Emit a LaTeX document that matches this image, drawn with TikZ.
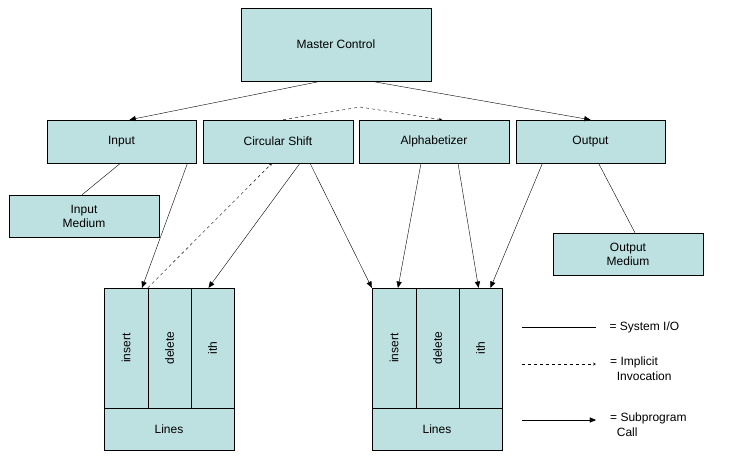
\documentclass[tikz,border=0pt]{standalone}
\usepackage{fontspec}
\setmainfont{Liberation Sans}
\usepackage{tikz}
\usetikzlibrary{calc, positioning, arrows, backgrounds}
\definecolor{boxfill}{HTML}{BDE0E1}
\tikzstyle{box}=[draw, fill=boxfill, shape=rectangle, inner sep=0pt, align=center, font=\fontsize{12}{14}\selectfont]
\tikzstyle{call}=[-triangle 45]
\tikzstyle{impl}=[dashed, ->]
\tikzset{>=stealth}
\begin{document}
\begin{tikzpicture}[x=1pt, y=-1pt]
\useasboundingbox (0,0) rectangle (736,458);
% the top module
\node[box, minimum width=190pt, minimum height=73pt] (M) at (336,44.5) {Master Control};
% the second row
\node[box, minimum width=149pt, minimum height=43pt] (I) at (121.5,141.5) {Input};
\node[box, minimum width=150pt, minimum height=43pt] (C) at (278,141.5) {Circular Shift};
\node[box, minimum width=150pt, minimum height=43pt] (A) at (434,141.5) {Alphabetizer};
\node[box, minimum width=149pt, minimum height=43pt] (O) at (590.5,141.5) {Output};
% the media
\node[box, minimum width=150pt, minimum height=42pt] (IM) at (84,216) {Input\\Medium};
\node[box, minimum width=150pt, minimum height=42pt] (OM) at (628,254) {Output\\Medium};
% the two line stores
\foreach \n/\x in {L/104, R/372} {
  \node[box, minimum width=44pt, minimum height=120pt] (\n1) at (\x+22,348) {};
  \node[box, minimum width=43pt, minimum height=120pt] (\n2) at (\x+65.5,348) {};
  \node[box, minimum width=43pt, minimum height=120pt] (\n3) at (\x+108.5,348) {};
  \node[box, minimum width=130pt, minimum height=42pt] (\n4) at (\x+65,429) {Lines};
  \node[rotate=90, font=\fontsize{12}{14}\selectfont] at (\n1) {insert};
  \node[rotate=90, font=\fontsize{12}{14}\selectfont] at (\n2) {delete};
  \node[rotate=90, font=\fontsize{12}{14}\selectfont] at (\n3) {ith};
}
% the calls
\draw[call] ($(M.south)+(-15,0)$) -- ($(I.north)+(8,0)$);
\draw[call] ($(M.south)+(35,0)$) -- ($(O.north)+(0,0)$);
\draw[call] ($(I.south)+(66,0)$) -- ($(L1.north)+(16,0)$);
\draw[call] ($(C.south)+(22,0)$) -- ($(L3.north)+(-4,0)$);
\draw[call] ($(C.south)+(32,0)$) -- (R1.north west);
\draw[call] ($(A.south)+(-13,0)$) -- ($(R1.north)+(4,0)$);
\draw[call] ($(A.south)+(24,0)$) -- ($(R3.north)+(-2,0)$);
\draw[call] ($(O.south)+(-48,0)$) -- ($(R3.north)+(10,0)$);
% the system I/O
\draw ($(I.south)+(-1,0)$) -- ($(IM.north)+(-2,0)$);
\draw ($(O.south)+(8,0)$) -- ($(OM.north)+(7,0)$);
% the implicit invocations
\coordinate (P) at (360,107);
\draw[impl] ($(C.north)+(5,0)$) -- (P) -- ($(A.north)+(8,0)$);
\draw[impl] ($(L2.north west)+(0,0)$) -- ($(C.south)+(-6,0)$);
% the legend
\coordinate (a1) at (522,327); \coordinate (a2) at (596,327);
\coordinate (b1) at (522,364); \coordinate (b2) at (596,364);
\coordinate (c1) at (522,420); \coordinate (c2) at (596,420);
\draw (a1) -- (a2);
\draw[impl] (b1) -- (b2);
\draw[call] (c1) -- (c2);
\node[anchor=west, font=\fontsize{12}{14}\selectfont] at (606,327) {= System I/O};
\node[anchor=north west, align=left, font=\fontsize{12}{15}\selectfont, inner sep=0pt] at (610,357) {= Implicit\\\ \ Invocation};
\node[anchor=north west, align=left, font=\fontsize{12}{15}\selectfont, inner sep=0pt] at (610,413) {= Subprogram\\\ \ Call};
\end{tikzpicture}
\end{document}
